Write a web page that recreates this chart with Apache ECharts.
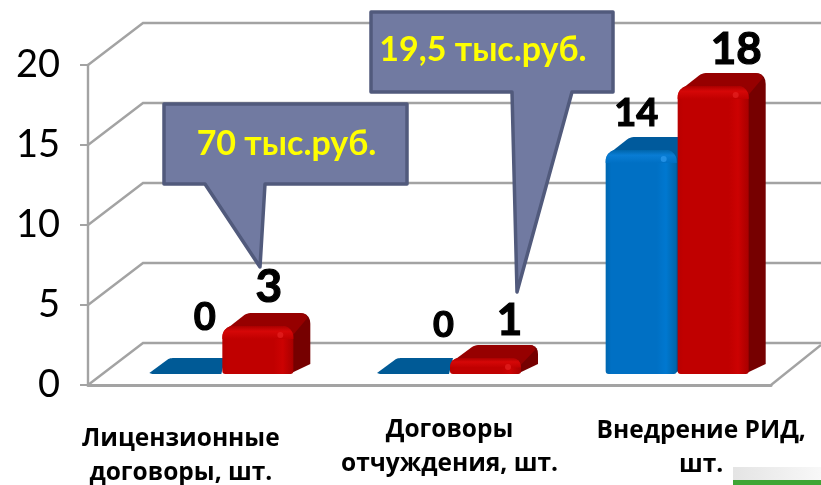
<!DOCTYPE html>
<html><head><meta charset="utf-8">
<style>html,body{margin:0;padding:0;background:#fff}#c{width:821px;height:485px}</style>
<script src="https://cdn.jsdelivr.net/npm/echarts@6/dist/echarts.min.js"></script></head>
<body><div id="c"></div>
<script>
const categories = ['Лицензионные\nдоговоры, шт.', 'Договоры\nотчуждения, шт.', 'Внедрение РИД,\nшт.'];
const blueValues = [0, 0, 14];
const redValues = [3, 1, 18];
const yTicks = [0, 5, 10, 15, 20];
const callout1 = '70 тыс.руб.';
const callout2 = '19,5 тыс.руб.';

const FONT = 'Lato, "Open Sans", "Noto Sans", sans-serif';
const CAT_FONT = '"Open Sans", "Noto Sans", sans-serif';
const GRID = '#a3a3a3';
const blueStyle = {front: ['#0067b0', '#0070c4', '#0078d0', '#0064a8'], top: '#005a9c', side: '#004f8c', glow: '#2f9bf0', flat: '#005a96', lip: '#0a7ed6'};
const redStyle = {front: ['#b80000', '#c00000', '#cc0202', '#a80000'], top: '#960000', side: '#760000', glow: '#e62222', flat: '#960000', lip: '#d80808'};
const blueLabels = [{dx: 54, dy: -56, size: 38}, {dx: 65, dy: -49, size: 36}, {dx: 30, dy: -36, size: 38}];
const redLabels = [{dx: 46, dy: -39, size: 46}, {dx: 59, dy: -37, size: 44}, {dx: 58, dy: -36, size: 44}];
const catOffsets = [{dx: -41, y: 439}, {dx: 0, y: 430}, {dx: 24, y: 431}];

function corner(p0, c, p1) {
  const out = [];
  for (let t = 0; t <= 1.001; t += 0.2) {
    out.push([(1 - t) * (1 - t) * p0[0] + 2 * t * (1 - t) * c[0] + t * t * p1[0],
              (1 - t) * (1 - t) * p0[1] + 2 * t * (1 - t) * c[1] + t * t * p1[1]]);
  }
  return out;
}

function wallItem(params, api) {
  const c = api.coord([0, api.value(1)]);
  const g = params.coordSys;
  const y = c[1], x0 = g.x;
  const items = [{type: 'polyline', shape: {points: [[x0, y], [x0 + 55, y - 42], [821, y - 42]]},
    style: {stroke: GRID, lineWidth: 2.4, fill: null}}];
  if (api.value(1) === 0) items.push({type: 'line', shape: {x1: g.x + g.width, y1: y, x2: 821, y2: y - 40},
    style: {stroke: GRID, lineWidth: 2.4}});
  return {type: 'group', silent: true, children: items};
}

function barRender(style, offset, labels) {
  return function (params, api) {
    const i = api.value(0), v = api.value(1);
    const cx = api.coord([i, 0])[0];
    const y0 = api.coord([i, 0])[1];
    const w = 71, dx = 17, dy = -13, lift = 11;
    const x0 = cx + 20.5 + offset, x1 = x0 + w, yb = y0 - lift;
    const h = api.size([0, v])[1];
    const yt = yb - h;
    const children = [];
    const lab = labels[i];
    if (v > 0) {
      const r = Math.min(11, h * 0.55);
      children.push({type: 'polygon', shape: {points: [
        [x1 - 14, yb], [x1 - 4, yb], [x1 + dx, yb + dy + 3],
        ...corner([x1 + dx, yt + dy + r], [x1 + dx, yt + dy], [x1 + dx - r, yt + dy]),
        [x1 - r, yt]]}, style: {fill: style.side}});
      children.push({type: 'polygon', shape: {points: [
        [x0 + 1, yt + r * 0.5],
        ...corner([x0 + 22, yt + dy + 2], [x0 + 25, yt + dy], [x0 + 30, yt + dy]),
        ...corner([x1 + dx - r, yt + dy], [x1 + dx - 3, yt + dy], [x1 + dx - 3, yt + dy + 5]),
        [x1 - 2, yt + r]]}, style: {fill: style.top}});
      children.push({type: 'rect', shape: {x: x0, y: yt, width: w, height: h, r: [r, r, 3, 3]}, style: {
        fill: {type: 'linear', x: 0, y: 0, x2: 1, y2: 0, colorStops: [
          {offset: 0, color: style.front[0]}, {offset: 0.08, color: style.front[1]},
          {offset: 0.72, color: style.front[1]}, {offset: 0.85, color: style.front[2]}, {offset: 1, color: style.front[3]}]}}});
      children.push({type: 'rect', shape: {x: x0, y: yt, width: w, height: Math.min(13, h * 0.6), r: [r, r, 0, 0]}, style: {
        fill: {type: 'linear', x: 0, y: 0, x2: 0, y2: 1, colorStops: [
          {offset: 0, color: style.front[3]}, {offset: 0.4, color: style.lip}, {offset: 1, color: style.front[1]}]}, opacity: 0.9}});
      children.push({type: 'circle', shape: {cx: x1 - 13, cy: yt + 9, r: 3}, style: {fill: style.glow, opacity: 0.7}});
    } else {
      children.push({type: 'polygon', shape: {points: [
        [x0 - 1, yb - 1], ...corner([x0 + 18, yb - 15], [x0 + 20, yb - 16], [x0 + 24, yb - 16]),
        [x1 + 4, yb - 16], [x1, yb], [x0 + 2, yb]]}, style: {fill: style.flat}});
    }
    children.push({type: 'text', z2: 20, style: {text: String(v), x: x0 + lab.dx + 0.5, y: yt + lab.dy,
      fill: '#000', stroke: '#000', lineWidth: 1.2, fontWeight: 'bold', fontSize: lab.size, fontFamily: FONT, align: 'center', verticalAlign: 'middle'}});
    return {type: 'group', silent: true, children};
  };
}

function catRender(params, api) {
  const i = api.value(0);
  const cx = api.coord([i, 0])[0];
  const o = catOffsets[i];
  const lines = categories[i].split('\n');
  return {type: 'group', silent: true, children: lines.map((t, n) => ({type: 'text',
    style: {text: t, x: cx + 20 + o.dx, y: o.y + n * 34, fill: '#000', fontWeight: 'bold', fontSize: 24.5, fontFamily: CAT_FONT,
      align: 'center', verticalAlign: 'middle'}}))};
}

function callout(rect, tail, text, tx, ty) {
  const [l, t, r, b] = rect;
  return [{type: 'polygon', z: 50, silent: true,
    shape: {points: [[l, t], [r, t], [r, b], [tail[2][0], b], tail[1], tail[0], [l, b]]},
    style: {fill: '#717aa1', stroke: '#515a7c', lineWidth: 3.5, lineJoin: 'round'}},
  {type: 'text', z: 51, silent: true, x: tx, y: ty,
    style: {text, fill: '#ffff00', fontWeight: 'bold', fontSize: 34, fontFamily: FONT, align: 'center', verticalAlign: 'middle'}}];
}

const chart = echarts.init(document.getElementById('c'), null, {renderer: 'canvas'});
chart.setOption({
  animation: false,
  backgroundColor: '#fff',
  grid: {left: 88, right: 50, top: 65, bottom: 100},
  xAxis: {type: 'category', data: categories, axisTick: {show: false}, axisLabel: {show: false},
    axisLine: {lineStyle: {color: GRID, width: 3}}, z: 3},
  yAxis: {type: 'value', min: 0, max: 20, interval: 5, splitLine: {show: false},
    axisLine: {show: true, lineStyle: {color: GRID, width: 2.4}},
    axisTick: {show: true, length: 8, lineStyle: {color: GRID, width: 2}},
    axisLabel: {color: '#000', fontFamily: FONT, fontSize: 38, margin: 28, padding: [10, 0, 0, 0]}},
  series: [
    {type: 'custom', clip: false, z: 1, renderItem: wallItem, data: yTicks.map(v => [0, v]), encode: {x: 0, y: 1}},
    {type: 'custom', clip: false, z: 4, name: 'blue', renderItem: barRender(blueStyle, -72, blueLabels), data: blueValues.map((v, i) => [i, v]), encode: {x: 0, y: 1}},
    {type: 'custom', clip: false, z: 5, name: 'red', renderItem: barRender(redStyle, 0, redLabels), data: redValues.map((v, i) => [i, v]), encode: {x: 0, y: 1}},
    {type: 'custom', clip: false, z: 6, renderItem: catRender, data: categories.map((c, i) => [i, 0]), encode: {x: 0, y: 1}}
  ],
  graphic: {elements: [
    ...callout([164, 104, 407, 184], [[205, 184], [260, 267], [265, 184]], callout1, 286.5, 144),
    ...callout([371, 12, 613, 92], [[512, 92], [517, 292], [572, 92]], callout2, 483, 50),
    {type: 'rect', z: 40, silent: true, shape: {x: 733, y: 467, width: 88, height: 13},
      style: {fill: {type: 'linear', x: 0, y: 0, x2: 1, y2: 0, colorStops: [{offset: 0, color: '#e4e4e4'}, {offset: 1, color: '#f8f8f8'}]}}},
    {type: 'rect', z: 40, silent: true, shape: {x: 733, y: 480, width: 88, height: 5}, style: {fill: '#3fa535'}}
  ]}
});
</script></body></html>
